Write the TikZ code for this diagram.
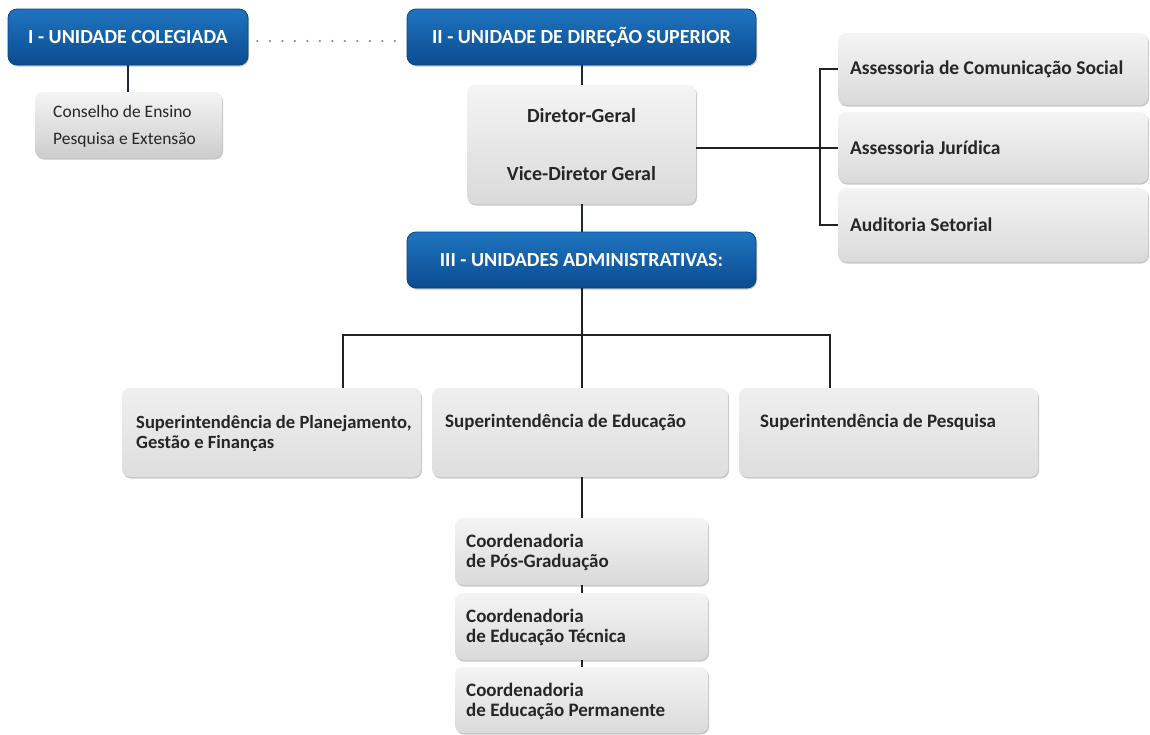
\documentclass[tikz,border=0pt]{standalone}
\usepackage{fontspec}
\setmainfont{Carlito}
\usetikzlibrary{shadows}

\definecolor{bluetop}{HTML}{1F74C0}
\definecolor{bluebot}{HTML}{0B4C8F}
\definecolor{blueedge}{HTML}{0A4480}
\definecolor{navyline}{HTML}{1C2B3A}
\definecolor{inkline}{HTML}{222222}
\definecolor{dotgrey}{HTML}{8C8C8C}
\definecolor{txtgrey}{HTML}{262626}
\definecolor{boxtop}{HTML}{F4F4F4}
\definecolor{boxbot}{HTML}{DADADA}
\definecolor{boxbotdark}{HTML}{CDCDCD}
\definecolor{suptop}{HTML}{EFEFEF}
\definecolor{supbot}{HTML}{DEDEDE}

\begin{document}
\begin{tikzpicture}[x=1pt,y=-1pt,
  softshadow/.style={drop shadow={shadow xshift=1pt, shadow yshift=-1.5pt, opacity=0.22, fill=black}},
  bluebox/.style={rectangle, rounded corners=9pt, draw=blueedge, line width=0.8pt,
    top color=bluetop, bottom color=bluebot, text=white, softshadow,
    font=\bfseries\fontsize{20}{24}\selectfont, minimum height=56pt},
  greybox/.style={rectangle, rounded corners=8pt, draw=none,
    top color=boxtop, bottom color=boxbot, softshadow, text=txtgrey},
  supbox/.style={greybox, top color=suptop, bottom color=supbot, minimum height=89pt},
  coordbox/.style={greybox, minimum width=253pt},
  boldtxt/.style={inner sep=0pt, align=flush left, text=txtgrey, font=\bfseries\fontsize{19}{20}\selectfont},
  plaintxt/.style={inner sep=0pt, align=flush left, text=txtgrey, font=\fontsize{17.5}{27}\selectfont},
  topline/.style={draw=navyline, line width=2pt},
  link/.style={draw=inkline, line width=2pt},
  dotline/.style={draw=dotgrey, line width=2.6pt, line cap=round, dash pattern=on 0pt off 12.5pt}
]
\useasboundingbox (0,0) rectangle (1150,734);
\fill[white] (0,0) rectangle (1150,734);

% --- top level units ---
\node[bluebox, minimum width=240pt] (u1) at (128,37) {I - UNIDADE COLEGIADA};
\node[bluebox, minimum width=349pt] (u2) at (581.5,37) {II - UNIDADE DE DIREÇÃO SUPERIOR};

% council
\node[greybox, bottom color=boxbotdark, minimum width=187pt, minimum height=66pt] (cons) at (128.5,125) {};
\node[plaintxt, anchor=base west, text width=170pt] (const) at (53,117) {Conselho de Ensino\\Pesquisa e Extensão};

% direction
\node[greybox, minimum width=229pt, minimum height=119pt, align=center,
      font=\bfseries\fontsize{20}{58}\selectfont] (dir) at (581.5,144.5) {Diretor-Geral\\Vice-Diretor Geral};

\node[bluebox, minimum width=349pt] (u3) at (581.5,260) {III - UNIDADES ADMINISTRATIVAS:};

% advisory units
\node[greybox, minimum height=72pt, text width=286pt, inner xsep=12pt, align=flush left,
      font=\bfseries\fontsize{19.5}{22}\selectfont] (a1) at (993,69) {Assessoria de Comunicação Social};
\node[greybox, minimum height=71pt, text width=286pt, inner xsep=12pt, align=flush left,
      font=\bfseries\fontsize{19.5}{22}\selectfont] (a2) at (993,147.5) {Assessoria Jurídica};
\node[greybox, minimum height=74pt, text width=286pt, inner xsep=12pt, align=flush left,
      font=\bfseries\fontsize{19.5}{22}\selectfont] (a3) at (993,225) {Auditoria Setorial};

% superintendencies
\node[supbox, minimum width=299pt] (s1) at (271.5,432.5) {};
\node[supbox, minimum width=296pt] (s2) at (580,432.5) {};
\node[supbox, minimum width=299pt] (s3) at (888.5,432.5) {};
\node[boldtxt, anchor=base west, text width=300pt, font=\bfseries\fontsize{18.6}{20}\selectfont] (s1t) at (136,428) {Superintendência de Planejamento,\\Gestão e Finanças};
\node[boldtxt, anchor=base west, text width=270pt] (s2t) at (445,427) {Superintendência de Educação};
\node[boldtxt, anchor=base west, text width=270pt] (s3t) at (760,427) {Superintendência de Pesquisa};

% coordinations
\node[coordbox, minimum height=67pt] (c1) at (581.5,551.5) {};
\node[coordbox, minimum height=67pt] (c2) at (581.5,626.5) {};
\node[coordbox, minimum height=66pt] (c3) at (581.5,700) {};
\node[boldtxt, anchor=base west, text width=235pt] (c1t) at (466,547) {Coordenadoria\\de Pós-Graduação};
\node[boldtxt, anchor=base west, text width=235pt] (c2t) at (466,622) {Coordenadoria\\de Educação Técnica};
\node[boldtxt, anchor=base west, text width=235pt] (c3t) at (466,696) {Coordenadoria\\de Educação Permanente};

% --- connectors ---
\draw[dotline, shorten <=9pt, shorten >=10pt] ([yshift=-4pt]u1.east) -- ([yshift=-4pt]u2.west);
\draw[topline] (u1.south) -- (u1.south |- cons.north);
\draw[topline] (u2.south) -- (dir.north);
\draw[topline] (dir.south) -- (u3.north);

\draw[link] (dir.east |- a2.west) -- (a2.west);
\draw[link] (a1.west) -- ++(-18,0) |- (a3.west);

\coordinate (jl) at (343,335);
\coordinate (jr) at (830,335);
\draw[link] (u3.south) -- (u3.south |- s2.north);
\draw[link] (jl |- s1.north) -- (jl) -- (jr) -- (jr |- s3.north);

\draw[link] (c1.north |- s2.south) -- (c1.north);
\draw[link] (c1.south) -- (c2.north);
\draw[link] (c2.south) -- (c3.north);
\end{tikzpicture}
\end{document}
